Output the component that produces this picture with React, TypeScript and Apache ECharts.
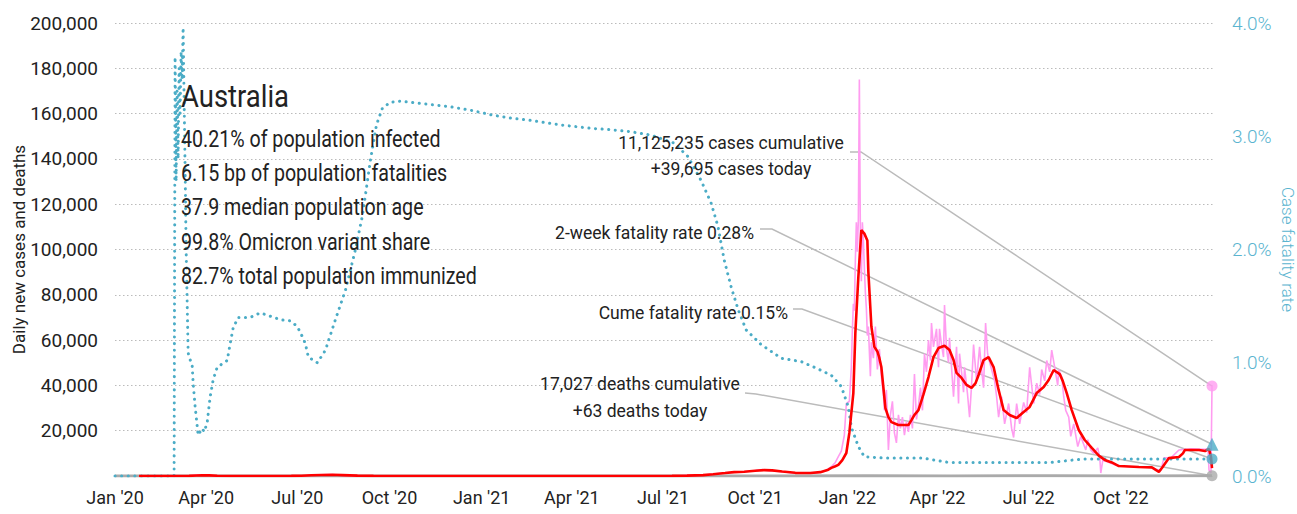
import React, { useEffect, useRef } from "react";
import * as echarts from "echarts";

// ---------- DATA ----------
const quarterTicks: string[] = [
  "2020-01-01", "2020-04-01", "2020-07-01", "2020-10-01",
  "2021-01-01", "2021-04-01", "2021-07-01", "2021-10-01",
  "2022-01-01", "2022-04-01", "2022-07-01", "2022-10-01",
];

// daily new cases (reported)
const dailyCases: [string, number][] = [
  ["2020-01-25", 0], ["2020-03-01", 5], ["2020-03-10", 20], ["2020-03-16", 90], ["2020-03-22", 370],
  ["2020-03-28", 460], ["2020-04-02", 300], ["2020-04-08", 100], ["2020-04-15", 40], ["2020-05-01", 15],
  ["2020-06-01", 10], ["2020-06-25", 40], ["2020-07-10", 230], ["2020-07-22", 480], ["2020-08-05", 680],
  ["2020-08-12", 400], ["2020-08-25", 150], ["2020-09-10", 50], ["2020-10-01", 10], ["2020-11-01", 5],
  ["2020-12-20", 25], ["2021-01-05", 20], ["2021-02-01", 5], ["2021-04-01", 10], ["2021-06-01", 10],
  ["2021-07-01", 30], ["2021-07-20", 150], ["2021-08-10", 400], ["2021-08-20", 900], ["2021-09-01", 1400],
  ["2021-09-10", 1800], ["2021-09-20", 1900], ["2021-10-01", 2400], ["2021-10-08", 2800], ["2021-10-15", 2300],
  ["2021-10-28", 1900], ["2021-11-10", 1200], ["2021-11-25", 1400], ["2021-12-01", 1500], ["2021-12-05", 1800],
  ["2021-12-10", 2300], ["2021-12-14", 3400], ["2021-12-17", 4500], ["2021-12-20", 6000], ["2021-12-23", 8500],
  ["2021-12-26", 11000], ["2021-12-29", 18000], ["2021-12-31", 32000], ["2022-01-03", 33000], ["2022-01-05", 48000],
  ["2022-01-06", 64000], ["2022-01-07", 76000], ["2022-01-08", 73000], ["2022-01-09", 95000], ["2022-01-10", 112000],
  ["2022-01-11", 99000], ["2022-01-12", 113000], ["2022-01-13", 175000], ["2022-01-14", 108000], ["2022-01-15", 86000],
  ["2022-01-16", 112000], ["2022-01-17", 104000], ["2022-01-18", 92000], ["2022-01-19", 81000], ["2022-01-20", 74000],
  ["2022-01-21", 62000], ["2022-01-22", 66000], ["2022-01-24", 44000], ["2022-01-25", 59000], ["2022-01-27", 52000],
  ["2022-01-29", 66000], ["2022-01-31", 47000], ["2022-02-02", 56000], ["2022-02-04", 44000], ["2022-02-06", 36000],
  ["2022-02-07", 29000], ["2022-02-09", 38000], ["2022-02-11", 11500], ["2022-02-13", 27000], ["2022-02-15", 33000],
  ["2022-02-17", 19000], ["2022-02-19", 14600], ["2022-02-21", 27000], ["2022-02-23", 21000], ["2022-02-25", 26000],
  ["2022-02-27", 18000], ["2022-03-01", 24000], ["2022-03-03", 19500], ["2022-03-05", 27000], ["2022-03-07", 21000],
  ["2022-03-09", 45000], ["2022-03-11", 25000], ["2022-03-13", 31000], ["2022-03-15", 39000], ["2022-03-17", 29000],
  ["2022-03-19", 54000], ["2022-03-21", 46000], ["2022-03-23", 60000], ["2022-03-25", 51000], ["2022-03-26", 67500],
  ["2022-03-28", 57000], ["2022-03-31", 65000], ["2022-04-02", 48000], ["2022-04-03", 65000], ["2022-04-05", 58000],
  ["2022-04-07", 52500], ["2022-04-08", 75500], ["2022-04-10", 56000], ["2022-04-12", 50000], ["2022-04-13", 61000],
  ["2022-04-15", 48000], ["2022-04-17", 35000], ["2022-04-19", 50000], ["2022-04-20", 57000], ["2022-04-22", 32000],
  ["2022-04-23", 54000], ["2022-04-25", 46000], ["2022-04-27", 37000], ["2022-04-28", 48000], ["2022-05-01", 36000],
  ["2022-05-03", 26000], ["2022-05-05", 40000], ["2022-05-07", 58000], ["2022-05-10", 42000], ["2022-05-13", 57000],
  ["2022-05-15", 47000], ["2022-05-17", 39000], ["2022-05-19", 67500], ["2022-05-21", 54000], ["2022-05-22", 52000],
  ["2022-05-25", 47000], ["2022-05-28", 42000], ["2022-05-30", 35000], ["2022-06-01", 26000], ["2022-06-04", 35000],
  ["2022-06-07", 23000], ["2022-06-11", 32000], ["2022-06-14", 21000], ["2022-06-16", 17000], ["2022-06-19", 32000],
  ["2022-06-22", 23000], ["2022-06-26", 32500], ["2022-06-29", 28000], ["2022-07-02", 48000], ["2022-07-06", 32000],
  ["2022-07-09", 41000], ["2022-07-12", 36000], ["2022-07-14", 47000], ["2022-07-17", 42000], ["2022-07-19", 51000],
  ["2022-07-22", 46000], ["2022-07-24", 55600], ["2022-07-27", 48000], ["2022-07-30", 40000], ["2022-07-31", 47000],
  ["2022-08-03", 43700], ["2022-08-05", 35000], ["2022-08-07", 29000], ["2022-08-10", 26000], ["2022-08-12", 17500],
  ["2022-08-15", 23000], ["2022-08-19", 13000], ["2022-08-22", 17500], ["2022-08-27", 11500], ["2022-08-29", 16000],
  ["2022-09-01", 11500], ["2022-09-04", 10000], ["2022-09-08", 12400], ["2022-09-10", 8000], ["2022-09-11", 1300],
  ["2022-09-13", 7000], ["2022-09-18", 6200], ["2022-09-25", 5000], ["2022-10-02", 4400], ["2022-10-15", 4000],
  ["2022-10-30", 4000], ["2022-11-06", 2800], ["2022-11-10", 2500], ["2022-11-13", 8000], ["2022-11-20", 8000],
  ["2022-11-28", 11500], ["2022-12-10", 12000], ["2022-12-24", 11800], ["2022-12-27", 12000], ["2022-12-28", 2600],
  ["2022-12-30", 1300], ["2022-12-31", 39695],
];

// 7-day average of new cases
const avgCases: [string, number][] = [
  ["2020-01-25", 0], ["2020-03-01", 3], ["2020-03-15", 40], ["2020-03-22", 250], ["2020-03-28", 360],
  ["2020-04-04", 280], ["2020-04-12", 90], ["2020-04-25", 20], ["2020-05-15", 15], ["2020-06-10", 10],
  ["2020-06-25", 40], ["2020-07-05", 120], ["2020-07-15", 300], ["2020-07-25", 450], ["2020-08-05", 520],
  ["2020-08-15", 400], ["2020-08-30", 150], ["2020-09-15", 45], ["2020-10-01", 15], ["2020-11-01", 10],
  ["2020-12-01", 8], ["2020-12-25", 20], ["2021-01-10", 25], ["2021-02-01", 8], ["2021-03-01", 8],
  ["2021-04-01", 10], ["2021-05-01", 10], ["2021-06-01", 12], ["2021-06-25", 20], ["2021-07-10", 60],
  ["2021-07-25", 150], ["2021-08-10", 400], ["2021-08-20", 800], ["2021-09-01", 1300], ["2021-09-10", 1700],
  ["2021-09-20", 1900], ["2021-10-01", 2300], ["2021-10-10", 2600], ["2021-10-18", 2500], ["2021-10-28", 2000],
  ["2021-11-10", 1400], ["2021-11-25", 1300], ["2021-12-05", 1700], ["2021-12-13", 2800], ["2021-12-16", 3600],
  ["2021-12-20", 4300], ["2021-12-23", 4900], ["2021-12-27", 7000], ["2021-12-31", 10150], ["2022-01-03", 19000],
  ["2022-01-07", 36600], ["2022-01-09", 63100], ["2022-01-12", 87900], ["2022-01-15", 108600], ["2022-01-18", 107000],
  ["2022-01-21", 104000], ["2022-01-22", 90000], ["2022-01-25", 66000], ["2022-01-28", 57000], ["2022-01-31", 55000],
  ["2022-02-02", 52000], ["2022-02-04", 48000], ["2022-02-06", 39000], ["2022-02-08", 30000], ["2022-02-11", 26000],
  ["2022-02-14", 23800], ["2022-02-21", 22500], ["2022-03-03", 22500], ["2022-03-06", 24700], ["2022-03-09", 27000],
  ["2022-03-13", 29100], ["2022-03-18", 36000], ["2022-03-23", 43700], ["2022-03-28", 52500], ["2022-04-02", 56500],
  ["2022-04-08", 57500], ["2022-04-13", 55600], ["2022-04-17", 51200], ["2022-04-20", 45500], ["2022-04-25", 43300],
  ["2022-04-30", 40200], ["2022-05-05", 38900], ["2022-05-09", 41000], ["2022-05-12", 44600], ["2022-05-17", 51200],
  ["2022-05-22", 52500], ["2022-05-27", 48100], ["2022-06-01", 38000], ["2022-06-06", 29100], ["2022-06-12", 26900],
  ["2022-06-19", 25600], ["2022-06-26", 28300], ["2022-07-02", 30500], ["2022-07-09", 36600], ["2022-07-16", 39300],
  ["2022-07-21", 42400], ["2022-07-26", 46800], ["2022-08-01", 45000], ["2022-08-04", 42000], ["2022-08-08", 36600],
  ["2022-08-13", 29100], ["2022-08-20", 20300], ["2022-08-26", 15900], ["2022-09-02", 12400], ["2022-09-09", 9000],
  ["2022-09-15", 7100], ["2022-09-22", 6000], ["2022-09-29", 4400], ["2022-10-19", 4000], ["2022-11-01", 3800],
  ["2022-11-08", 1800], ["2022-11-11", 3500], ["2022-11-18", 7900], ["2022-11-28", 8400], ["2022-12-02", 10000],
  ["2022-12-04", 11500], ["2022-12-18", 11500], ["2022-12-24", 11000], ["2022-12-28", 12000], ["2022-12-30", 8400],
  ["2022-12-31", 3500],
];

// 7-day average of deaths
const avgDeaths: [string, number][] = [
  ["2020-01-01", 0], ["2020-03-01", 0], ["2020-04-05", 4], ["2020-08-15", 15], ["2020-10-01", 2],
  ["2021-06-01", 0], ["2021-10-15", 12], ["2022-01-20", 80], ["2022-04-15", 40], ["2022-07-25", 75],
  ["2022-10-15", 20], ["2022-12-31", 63],
];

// cumulative case fatality rate, %
const caseFatality: [string, number][] = [
  ["2020-01-01", 0], ["2020-02-29", 0], ["2020-03-01", 3.7], ["2020-03-02", 2.6], ["2020-03-03", 3.4],
  ["2020-03-04", 2.8], ["2020-03-05", 3.6], ["2020-03-06", 3.2], ["2020-03-07", 3.75], ["2020-03-08", 3.5],
  ["2020-03-09", 3.96], ["2020-03-10", 3.3], ["2020-03-11", 2.7], ["2020-03-12", 2.0], ["2020-03-14", 1.09],
  ["2020-03-15", 1.05], ["2020-03-18", 0.98], ["2020-03-19", 0.82], ["2020-03-21", 0.61], ["2020-03-24", 0.36],
  ["2020-03-28", 0.42], ["2020-03-30", 0.39], ["2020-04-02", 0.47], ["2020-04-05", 0.7], ["2020-04-08", 0.85],
  ["2020-04-12", 0.96], ["2020-04-22", 1.02], ["2020-04-25", 1.17], ["2020-04-28", 1.31], ["2020-05-03", 1.4],
  ["2020-05-15", 1.4], ["2020-05-25", 1.44], ["2020-06-01", 1.42], ["2020-06-14", 1.38], ["2020-06-24", 1.37],
  ["2020-07-01", 1.32], ["2020-07-06", 1.23], ["2020-07-09", 1.17], ["2020-07-12", 1.05], ["2020-07-21", 1.0],
  ["2020-07-29", 1.11], ["2020-08-08", 1.38], ["2020-08-18", 1.64], ["2020-08-28", 2.0], ["2020-09-04", 2.3],
  ["2020-09-12", 2.79], ["2020-09-18", 3.1], ["2020-09-24", 3.25], ["2020-10-02", 3.3], ["2020-10-12", 3.31],
  ["2020-10-22", 3.3], ["2020-11-11", 3.28], ["2020-12-01", 3.26], ["2020-12-21", 3.23], ["2021-01-10", 3.19],
  ["2021-01-30", 3.16], ["2021-02-19", 3.14], ["2021-03-21", 3.1], ["2021-04-20", 3.07], ["2021-05-07", 3.06],
  ["2021-05-30", 3.04], ["2021-06-19", 3.01], ["2021-07-12", 2.94], ["2021-07-26", 2.82], ["2021-08-08", 2.61],
  ["2021-08-18", 2.41], ["2021-08-25", 2.2], ["2021-08-31", 1.91], ["2021-09-07", 1.67], ["2021-09-14", 1.47],
  ["2021-09-22", 1.29], ["2021-10-07", 1.16], ["2021-10-27", 1.04], ["2021-11-16", 1.01], ["2021-11-29", 0.96],
  ["2021-12-16", 0.89], ["2021-12-26", 0.79], ["2022-01-02", 0.61], ["2022-01-05", 0.43], ["2022-01-12", 0.26],
  ["2022-01-18", 0.17], ["2022-02-04", 0.16], ["2022-03-16", 0.16], ["2022-04-12", 0.12], ["2022-06-17", 0.12],
  ["2022-07-24", 0.12], ["2022-08-13", 0.14], ["2022-08-26", 0.15], ["2022-12-31", 0.15],
];

const lastDate = "2022-12-31";
const casesToday = 39695;
const deathsToday = 63;
const twoWeekFatality = 0.28;
const cumeFatality = 0.15;

const countryName = "Australia";
const statLines: string[] = [
  "40.21% of population infected",
  "6.15 bp of population fatalities",
  "37.9 median population age",
  "99.8% Omicron variant share",
  "82.7% total population immunized",
];
const casesNote = "11,125,235 cases cumulative\n+39,695 cases today";
const twoWeekNote = "2-week fatality rate 0.28%";
const cumeNote = "Cume fatality rate 0.15%";
const deathsNote = "17,027 deaths cumulative\n+63 deaths today";

// ---------- HELPERS ----------
const ts = (s: string) => {
  const [y, m, d] = s.split("-").map(Number);
  return Date.UTC(y, m - 1, d);
};
const toSeries = (a: [string, number][]) => a.map(([d, v]) => [ts(d), v]);
const MONTHS = ["Jan", "Feb", "Mar", "Apr", "May", "Jun", "Jul", "Aug", "Sep", "Oct", "Nov", "Dec"];

const FONT = "Roboto";
const TEAL = "#4bacc6";
const TEAL_TEXT = "#5ab4cf";
const PINK = "#ff9cf0";
const RED = "#ff0000";
const GREY = "#bbbbbb";

const measure = (text: string, size: number) => {
  const ctx = document.createElement("canvas").getContext("2d");
  if (!ctx) return 1;
  ctx.font = `${size}px ${FONT}`;
  return ctx.measureText(text).width;
};

export default function App() {
  const ref = useRef<HTMLDivElement>(null);

  useEffect(() => {
    if (!ref.current) return;
    const chart = echarts.init(ref.current, undefined, { renderer: "svg" });
    const lastTs = ts(lastDate);

    chart.setOption({
      animation: false,
      backgroundColor: "#ffffff",
      grid: { left: 115, right: 84, top: 23, bottom: 38, containLabel: false, outerBoundsMode: "none" },
      xAxis: {
        type: "value",
        min: ts("2020-01-01"),
        max: ts("2023-01-01"),
        axisLine: { show: false },
        axisTick: { show: false },
        splitLine: { show: false },
        axisLabel: {
          customValues: quarterTicks.map(ts),
          formatter: (v: number) => {
            const d = new Date(v);
            return MONTHS[d.getUTCMonth()] + " '" + String(d.getUTCFullYear()).slice(2);
          },
          color: "#222",
          fontFamily: FONT,
          fontSize: 18,
          margin: 12,
          showMinLabel: true,
          showMaxLabel: true,
        },
      },
      yAxis: [
        {
          type: "value",
          min: 0,
          max: 200000,
          interval: 20000,
          name: "Daily new cases and deaths",
          nameLocation: "middle",
          nameGap: 88,
          nameMoveOverlap: false,
          nameTextStyle: { color: "#222", fontFamily: FONT, fontSize: 17 },
          axisLine: { show: false },
          axisTick: { show: false },
          splitLine: { show: true, lineStyle: { color: GREY, type: [1.5, 2.5], width: 1 } },
          axisLabel: {
            color: "#222",
            fontFamily: FONT,
            fontSize: 19,
            margin: 17,
            formatter: (v: number) => (v === 0 ? "" : v.toLocaleString("en-US")),
          },
        },
        {
          type: "value",
          min: 0,
          max: 4,
          interval: 1,
          position: "right",
          name: "Case fatality rate",
          nameLocation: "middle",
          nameGap: 66,
          nameRotate: -90,
          nameMoveOverlap: false,
          nameTextStyle: { color: TEAL_TEXT, fontFamily: FONT, fontSize: 17, fontWeight: 300 },
          axisLine: { show: false },
          axisTick: { show: false },
          splitLine: { show: false },
          axisLabel: {
            color: TEAL_TEXT,
            fontFamily: FONT,
            fontWeight: 300,
            fontSize: 19,
            margin: 19,
            formatter: (v: number) => v.toFixed(1) + "%",
          },
        },
      ],
      series: [
        {
          name: "Deaths",
          type: "line",
          data: toSeries(avgDeaths),
          showSymbol: false,
          lineStyle: { color: "#aaaaaa", width: 3 },
          z: 1,
        },
        {
          name: "Daily cases",
          type: "line",
          data: toSeries(dailyCases),
          showSymbol: false,
          lineStyle: { color: PINK, width: 1.6 },
          z: 2,
        },
        {
          name: "Case fatality rate",
          type: "line",
          yAxisIndex: 1,
          data: toSeries(caseFatality),
          showSymbol: false,
          lineStyle: { color: TEAL, width: 3, type: [0.1, 6.5], cap: "round" },
          z: 3,
        },
        {
          name: "7-day average",
          type: "line",
          data: toSeries(avgCases),
          showSymbol: false,
          lineStyle: { color: RED, width: 2.6 },
          z: 4,
        },
        {
          type: "scatter",
          data: [[lastTs, casesToday]],
          symbol: "circle",
          symbolSize: 11,
          itemStyle: { color: PINK },
          z: 6,
        },
        {
          type: "scatter",
          yAxisIndex: 1,
          data: [[lastTs, twoWeekFatality]],
          symbol: "triangle",
          symbolSize: 13,
          itemStyle: { color: TEAL },
          z: 6,
        },
        {
          type: "scatter",
          yAxisIndex: 1,
          data: [[lastTs, cumeFatality]],
          symbol: "circle",
          symbolSize: 11,
          itemStyle: { color: TEAL },
          z: 6,
        },
        {
          type: "scatter",
          data: [[lastTs, deathsToday]],
          symbol: "circle",
          symbolSize: 11,
          itemStyle: { color: "#aaaaaa" },
          z: 6,
        },
      ],
    });

    const px = (y: number, axis: number) =>
      chart.convertToPixel({ xAxisIndex: 0, yAxisIndex: axis }, [lastTs, y]) as number[];
    const pCases = px(casesToday, 0);
    const pTwo = px(twoWeekFatality, 1);
    const pCume = px(cumeFatality, 1);
    const pDeaths = px(deathsToday, 0);

    // condensed look: squeeze a regular face horizontally
    const noteSize = 19;
    const noteSqueeze = 226 / measure("11,125,235 cases cumulative", noteSize);
    const statSize = 24;
    const statSqueeze = 260 / measure(statLines[0], statSize);
    const titleSize = 32;
    const titleSqueeze = 108 / measure(countryName, titleSize);

    const leader = (pts: number[][]) => ({
      type: "polyline",
      z: 1,
      silent: true,
      shape: { points: pts },
      style: { stroke: GREY, lineWidth: 1.5, fill: "none" },
    });
    const note = (x: number, y: number, text: string, align: string, size: number, sq: number, lh = 26) => ({
      type: "text",
      x,
      y,
      scaleX: sq,
      z: 10,
      style: {
        text,
        fill: "#222",
        fontFamily: FONT,
        fontSize: size,
        align,
        verticalAlign: "middle",
        lineHeight: lh,
      },
    });

    chart.setOption({
      graphic: [
        leader([[850, 152], [861, 152], pCases]),
        leader([[760, 229], [772, 229], pTwo]),
        leader([[793, 309], [802, 309], pCume]),
        leader([[745, 393], [756, 394], pDeaths]),
        note(731, 155, casesNote, "center", noteSize, noteSqueeze),
        note(754, 232, twoWeekNote, "right", noteSize, noteSqueeze),
        note(788, 312, cumeNote, "right", noteSize, noteSqueeze),
        note(640, 397, deathsNote, "center", noteSize, noteSqueeze, 27),
        note(181, 96, countryName, "left", titleSize, titleSqueeze),
        ...statLines.map((s, i) => note(181, 138.5 + i * 34.3, s, "left", statSize, statSqueeze)),
      ],
    });

    return () => chart.dispose();
  }, []);

  return (
    <div
      ref={ref}
      style={{ position: "absolute", left: 0, top: 0, width: 1297, height: 514 }}
    />
  );
}
